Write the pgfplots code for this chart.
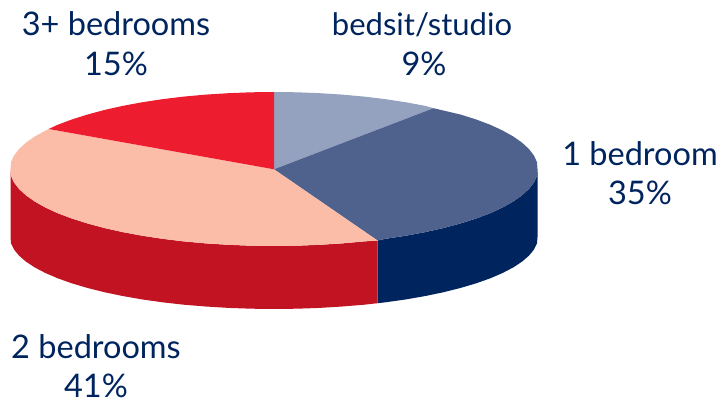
\documentclass[border=0pt]{standalone}
\usepackage{pgfplots}
\pgfplotsset{compat=1.18}
\usepackage{fontspec}
\setmainfont{Lato}
\definecolor{navy}{HTML}{00245D}
\definecolor{midblue}{HTML}{4F628E}
\definecolor{lightblue}{HTML}{94A2BF}
\definecolor{darkred}{HTML}{C21323}
\definecolor{brightred}{HTML}{ED1C2E}
\definecolor{peach}{HTML}{FBBCA8}
\tikzset{lbl/.style={font=\fontsize{32.5}{38}\selectfont, text=navy, anchor=base, inner sep=0pt}}
\begin{document}
\begin{tikzpicture}
\begin{axis}[
    hide axis, scale only axis, clip=false,
    width=721pt, height=401pt,
    xmin=0, xmax=721, ymin=0, ymax=401,
    y dir=reverse,
    every axis plot/.append style={draw=none, no markers, line width=0pt}
]
% side walls (pixel coordinates of the reference)
\addplot[fill=navy] coordinates {(537.5,169) (537,175.7) (534,182.4) (529,188.9) (522.1,195.3) (513.3,201.5) (502.6,207.5) (490.3,213.2) (476.2,218.5) (460.7,223.4) (443.7,228) (425.4,232.1) (406,235.7) (385.6,238.8) (377.5,240.5)
  (377.5,303.2) (385.6,302.3) (406,299.4) (425.4,296) (443.7,292.2) (460.7,287.9) (476.2,283.3) (490.3,278.3) (502.6,273) (513.3,267.4) (522.1,261.6) (529,255.6) (534,249.5) (537,243.3) (537.5,237)} --cycle;
\addplot[fill=darkred] coordinates {(377.5,240.5) (364.3,241.4) (342.3,243.4) (319.8,244.8) (297,245.7) (274,246) (251,245.7) (228.2,244.8) (205.7,243.4) (183.7,241.4) (162.4,238.8) (142,235.7) (122.6,232.1) (104.3,228) (87.3,223.4) (71.8,218.5) (57.7,213.2) (45.4,207.5) (34.7,201.5) (25.9,195.3) (19,188.9) (14,182.4) (11,175.7) (10.5,169)
  (10.5,237) (11,243.3) (14,249.5) (19,255.6) (25.9,261.6) (34.7,267.4) (45.4,273) (57.7,278.3) (71.8,283.3) (87.3,287.9) (104.3,292.2) (122.6,296) (142,299.4) (162.4,302.3) (183.7,304.7) (205.7,306.5) (228.2,307.9) (251,308.7) (274,309) (297,308.7) (319.8,307.9) (342.3,306.5) (364.3,304.7) (377.5,303.2)} --cycle;
% top face
\addplot[fill=lightblue] coordinates {(274,169.3) (274,92) (297,92.3) (319.8,93.2) (342.3,94.6) (364.3,96.6) (385.6,99.2) (406,102.3) (425.4,105.9) (433.5,108.2)} --cycle;
\addplot[fill=midblue] coordinates {(274,169.3) (433.5,108.2) (460.7,114.6) (476.2,119.5) (490.3,124.8) (502.6,130.5) (513.3,136.5) (522.1,142.7) (529,149.1) (534,155.6) (537,162.3) (537.5,169) (537,175.7) (534,182.4) (529,188.9) (522.1,195.3) (513.3,201.5) (502.6,207.5) (490.3,213.2) (476.2,218.5) (460.7,223.4) (443.7,228) (425.4,232.1) (406,235.7) (385.6,238.8) (377.5,240.5)} --cycle;
\addplot[fill=peach] coordinates {(274,169.3) (377.5,240.5) (364.3,241.4) (342.3,243.4) (319.8,244.8) (297,245.7) (274,246) (251,245.7) (228.2,244.8) (205.7,243.4) (183.7,241.4) (162.4,238.8) (142,235.7) (122.6,232.1) (104.3,228) (87.3,223.4) (71.8,218.5) (57.7,213.2) (45.4,207.5) (34.7,201.5) (25.9,195.3) (19,188.9) (14,182.4) (11,175.7) (10.5,169) (11,162.3) (14,155.6) (19,149.1) (25.9,142.7) (34.7,136.5) (48.7,129)} --cycle;
\addplot[fill=brightred] coordinates {(274,169.3) (48.7,129) (57.7,124.8) (71.8,119.5) (87.3,114.6) (104.3,110) (122.6,105.9) (142,102.3) (162.4,99.2) (183.7,96.6) (205.7,94.6) (228.2,93.2) (251,92.3) (274,92)} --cycle;
% labels
\node[lbl] at (axis cs:116,36) {3+ bedrooms};
\node[lbl] at (axis cs:116,76) {15\%};
\node[lbl, font=\fontsize{31}{38}\selectfont] at (axis cs:422,36) {bedsit/studio};
\node[lbl] at (axis cs:424,76) {9\%};
\node[lbl] at (axis cs:640,166) {1 bedroom};
\node[lbl] at (axis cs:640,205) {35\%};
\node[lbl] at (axis cs:96,358) {2 bedrooms};
\node[lbl] at (axis cs:96,397) {41\%};
% keep the page at the full 721x401 frame
\path (axis cs:0,0) rectangle (axis cs:721,401);
\end{axis}
\end{tikzpicture}
\end{document}
